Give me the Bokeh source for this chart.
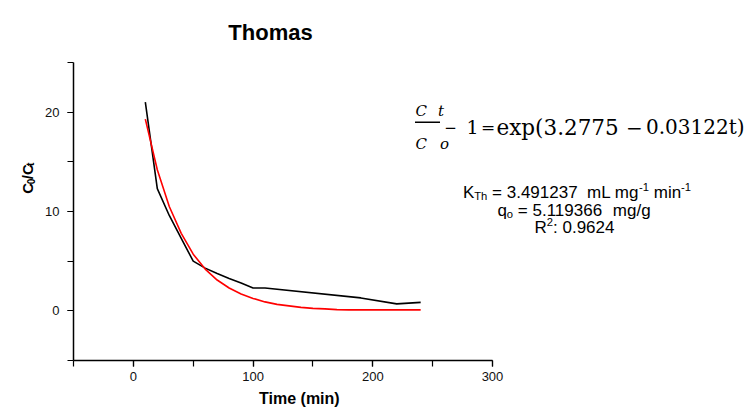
import math
from bokeh.plotting import figure
from bokeh.layouts import row
from bokeh.models import (Range1d, SingleIntervalTicker, Title, BoxAnnotation, Label)
from bokeh.core.properties import value
from bokeh.embed import file_html
from bokeh.resources import INLINE

# ---------------- data ----------------
title_text = "Thomas"
x_label_text = "Time (min)"
x_limits = [-50, 300]
y_limits = [-5, 25]
x_tick_interval = 100
y_tick_interval = 10

# experimental C0/Ct (black)
time_exp = [10, 20, 30, 40, 50, 60, 70, 80, 90, 100, 110, 190, 220, 240]
ratio_exp = [21.0, 12.3, 9.6, 7.3, 5.0, 4.3, 3.75, 3.25, 2.8, 2.3, 2.3, 1.3, 0.7, 0.85]

# Thomas model fit (red)
time_fit = [10, 20, 30, 40, 50, 60, 70, 80, 90, 100, 110, 120, 130, 140, 150,
            160, 170, 180, 190, 200, 210, 220, 230, 240]
ratio_fit = [19.3, 14.2, 10.5, 7.8, 5.7, 4.2, 3.1, 2.3, 1.7, 1.25, 0.9, 0.65,
             0.5, 0.35, 0.25, 0.2, 0.12, 0.1, 0.1, 0.1, 0.1, 0.1, 0.1, 0.1]

k_th_text = "3.491237"
q_o_text = "5.119366"
r2_text = "0.9624"

# ---------------- layout (page pixels) ----------------
TOTAL_W, TOTAL_H = 751, 410
LEFT_W = 38                      # strip holding the rotated y label
AX_L, AX_R, AX_T, AX_B = 73, 492, 62, 360   # where the axes run on the page

SANS = "Liberation Sans"
SERIF = "DejaVu Serif"

sx = (AX_R - AX_L) / (x_limits[1] - x_limits[0])
sy = (AX_B - AX_T) / (y_limits[1] - y_limits[0])


def px2x(px):
    return x_limits[0] + (px - AX_L) / sx


def py2y(py):
    return y_limits[1] - (py - AX_T) / sy


# frame spans to the right/top page edges; axes are bounded to the data limits
p = figure(width=TOTAL_W - LEFT_W, height=TOTAL_H, output_backend="svg",
           toolbar_location=None,
           x_range=Range1d(x_limits[0], px2x(TOTAL_W)),
           y_range=Range1d(y_limits[0], py2y(0)),
           min_border_left=AX_L - LEFT_W, min_border_right=0,
           min_border_top=0, min_border_bottom=TOTAL_H - AX_B)
p.outline_line_color = None
p.grid.visible = False
p.background_fill_color = "white"
p.border_fill_color = "white"

for ax, iv, lim in ((p.xaxis, x_tick_interval, x_limits),
                    (p.yaxis, y_tick_interval, y_limits)):
    ax.ticker = SingleIntervalTicker(interval=iv, num_minor_ticks=2)
    ax.bounds = tuple(lim)
    ax.axis_line_width = 1.5
    ax.axis_line_color = "black"
    ax.major_tick_line_color = "black"
    ax.minor_tick_line_color = "black"
    ax.major_tick_line_width = 1.2
    ax.minor_tick_line_width = 1.2
    ax.major_tick_in = 0
    ax.major_tick_out = 6
    ax.minor_tick_in = 0
    ax.minor_tick_out = 6
    ax.major_label_text_font = SANS
    ax.major_label_text_font_size = "13px"
    ax.major_label_text_color = "#111111"
p.yaxis.major_label_standoff = 8
p.xaxis.major_label_standoff = 5

# x axis title: a Title placed below the axis, shifted to where the reference has it
XL_SIZE = 16
xl_width = 5.056 * XL_SIZE
p.add_layout(Title(text=x_label_text, align="left", offset=299 - xl_width / 2 - AX_L,
                   text_font=SANS, text_font_size=f"{XL_SIZE}px",
                   text_font_style="bold", text_color="black", standoff=8),
             "below")

p.line(time_exp, ratio_exp, line_color="black", line_width=1.6)
p.line(time_fit, ratio_fit, line_color="#ff0000", line_width=1.6)


def lab(s, px, py, size, font=SANS, style="normal", align="left"):
    p.add_layout(Label(x=px2x(px), y=py2y(py), text=s, text_font=font,
                       text_font_size=f"{size}px", text_font_style=style,
                       text_align=align, text_baseline="alphabetic",
                       text_color="black"))


# title
lab(title_text, 270, 32, 22, style="bold", align="center")

# equation
lab("C", 415, 110.7, 15, font=SERIF, style="italic")
lab("t", 437.5, 110.7, 15, font=SERIF, style="italic")
lab("C", 415, 143.3, 15, font=SERIF, style="italic")
lab("o", 439.5, 143.3, 15, font=SERIF, style="italic")
p.add_layout(BoxAnnotation(left=px2x(414.5), right=px2x(439.5), top=py2y(121),
                           bottom=py2y(122.4), fill_color="black", fill_alpha=1,
                           line_color=None))
lab("\u2212", 450, 126.7, 15, font=SERIF, align="center")
lab("1", 466, 126.7, 19, font=SERIF)
lab("=", 487.5, 126.7, 17, font=SERIF, align="center")
lab("exp(3.2775", 496, 126.7, 21.5, font=SERIF)
lab("\u2212", 634, 126.7, 20, font=SERIF, align="center")
lab("0.03122t)", 744, 126.7, 20, font=SERIF, align="right")

# parameters (rich text assembled from pieces)
ARIAL = {" ": .278, "=": .584, ".": .278, "K": .667, "T": .611, "h": .556,
         "m": .833, "L": .556, "g": .556, "-": .333, "n": .556, "i": .222,
         "q": .556, "o": .556, "/": .278, "R": .722, ":": .278}


def tw(s, size):
    return sum(ARIAL.get(c, .556) for c in s) * size


def rich_line(pieces, cx, base, size):
    sub = size * 0.66
    sizes = [sub if k != "n" else size for _, k in pieces]
    widths = [tw(t, s) for (t, _), s in zip(pieces, sizes)]
    x = cx - sum(widths) / 2
    for (t, k), s, w in zip(pieces, sizes, widths):
        lead = len(t) - len(t.lstrip(" "))
        xx = x + tw(" " * lead, s)
        if k == "n":
            lab(t.strip(" "), xx, base, s)
        elif k == "b":
            lab(t.strip(" "), xx, base + size * 0.2, s)
        else:
            lab(t.strip(" "), xx, base - size * 0.33, s)
        x += w


FS = 17
rich_line([("K", "n"), ("Th", "b"), (f" = {k_th_text}", "n"), ("  mL mg", "n"),
           ("-1", "p"), (" min", "n"), ("-1", "p")], 576.5, 191.7, FS)
rich_line([("q", "n"), ("o", "b"), (f" = {q_o_text}", "n"), ("  mg/g", "n")],
          573.5, 210, FS)
rich_line([("R", "n"), ("2", "p"), (f": {r2_text}", "n")], 574, 226.7, FS)

# ---- y label strip (rotated C0/Ct) ----
lf = figure(width=LEFT_W, height=TOTAL_H, x_range=Range1d(0, LEFT_W),
            y_range=Range1d(TOTAL_H, 0), output_backend="svg",
            toolbar_location=None, x_axis_location=None, y_axis_location=None,
            min_border=0)
lf.outline_line_color = None
lf.grid.visible = False
lf.border_fill_color = "white"


def ylab(s, x, y, size):
    lf.text(x=[x], y=[y], text=[s], text_font=value(SANS),
            text_font_size=value(f"{size}px"), text_font_style="bold",
            text_align="left", text_baseline="alphabetic", angle=math.pi / 2,
            text_color="black")


ys = 220
ylab("C", 27, ys, 15)
ys -= 0.722 * 15
ylab("0", 30, ys, 10)
ys -= 0.556 * 10
ylab("/C", 27, ys, 15)
ys -= (0.278 + 0.722) * 15
ylab("t", 30, ys, 10)

layout = row(lf, p)
open("out.html", "w").write(file_html(layout, INLINE))
